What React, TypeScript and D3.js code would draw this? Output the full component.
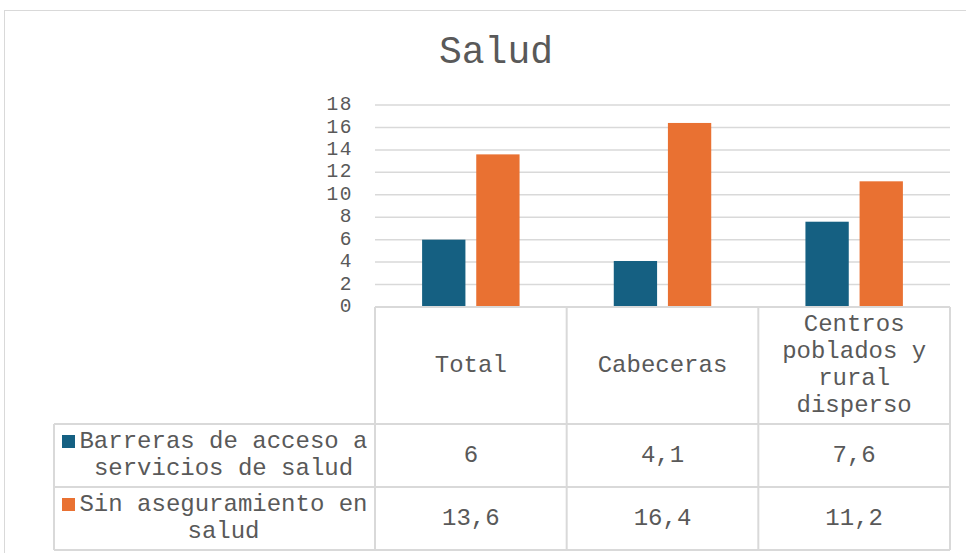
import React from 'react';
import * as d3 from 'd3';

// data
const categories = ['Total', 'Cabeceras', 'Centros poblados y rural disperso'];
const categoryLines = [['Total'], ['Cabeceras'], ['Centros', 'poblados y', 'rural', 'disperso']];
const seriesNames = ['Barreras de acceso a servicios de salud', 'Sin aseguramiento en salud'];
const seriesLines = [['Barreras de acceso a', 'servicios de salud'], ['Sin aseguramiento en', 'salud']];
const barreras = [6, 4.1, 7.6];
const sinAseguramiento = [13.6, 16.4, 11.2];
const yTicks = [0, 2, 4, 6, 8, 10, 12, 14, 16, 18];

const colors = ['#156082', '#e97132'];
const textColor = '#595959';
const gridColor = '#d9d9d9';
const font = '"Liberation Mono", "Courier New", monospace';

const W = 966, H = 553;
const plotLeft = 375, plotRight = 950, plotTop = 105, plotBottom = 307;
const legendLeft = 54;
const headerBottom = 424, row1Bottom = 487, tableBottom = 550;
const lineH = 27;

const fmt = (v: number) => String(v).replace('.', ',');

export default function App() {
  const series = [barreras, sinAseguramiento];

  const x0 = d3.scaleBand<string>().domain(categories).range([plotLeft, plotRight]);
  const x1 = d3
    .scaleBand<string>()
    .domain(seriesNames)
    .range([0, x0.bandwidth()])
    .paddingInner(0.2)
    .paddingOuter(0.87);
  const y = d3.scaleLinear().domain([0, 18]).range([plotBottom, plotTop]);

  const rowTops = [headerBottom, row1Bottom];
  const rowBottoms = [row1Bottom, tableBottom];

  return (
    <svg
      width={W}
      height={H}
      style={{ position: 'absolute', left: 0, top: 0, background: '#fff' }}
      fontFamily={font}
    >
      <rect x={4.5} y={10.5} width={1000} height={600} fill="#fff" stroke={gridColor} />

      <text x={496} y={63} textAnchor="middle" fontSize={38} fill={textColor}>
        Salud
      </text>

      {/* gridlines + y ticks */}
      {yTicks.map(t => (
        <g key={t}>
          {t > 0 && (
            <line x1={plotLeft} x2={plotRight} y1={y(t)} y2={y(t)} stroke={gridColor} strokeWidth={1.5} />
          )}
          <text
            x={353}
            y={y(t)}
            textAnchor="end"
            dominantBaseline="middle"
            fontSize={19.5}
            letterSpacing={1.5}
            fill={textColor}
          >
            {t}
          </text>
        </g>
      ))}

      {/* bars */}
      {categories.map((c, ci) => (
        <g key={c} transform={`translate(${x0(c)},0)`}>
          {seriesNames.map((s, si) => (
            <rect
              key={s}
              x={x1(s)}
              y={y(series[si][ci])}
              width={x1.bandwidth()}
              height={y(0) - y(series[si][ci])}
              fill={colors[si]}
            />
          ))}
        </g>
      ))}

      {/* data table */}
      <g stroke={gridColor} strokeWidth={2} fill="none">
        <line x1={plotLeft} x2={plotRight} y1={plotBottom} y2={plotBottom} />
        <line x1={legendLeft} x2={plotRight} y1={headerBottom} y2={headerBottom} />
        <line x1={legendLeft} x2={plotRight} y1={row1Bottom} y2={row1Bottom} />
        <line x1={legendLeft} x2={plotRight} y1={tableBottom} y2={tableBottom} />
        <line x1={legendLeft} x2={legendLeft} y1={headerBottom} y2={tableBottom} />
        {categories.map(c => (
          <line key={c} x1={x0(c)} x2={x0(c)} y1={plotBottom} y2={tableBottom} />
        ))}
        <line x1={plotRight} x2={plotRight} y1={plotBottom} y2={tableBottom} />
      </g>

      {/* category header */}
      {categories.map((c, ci) => {
        const cx = (x0(c) as number) + x0.bandwidth() / 2;
        const cy = (plotBottom + headerBottom) / 2;
        const lines = categoryLines[ci];
        return (
          <g key={c}>
            {lines.map((l, li) => (
              <text
                key={li}
                x={cx}
                y={cy + (li - (lines.length - 1) / 2) * lineH}
                textAnchor="middle"
                dominantBaseline="middle"
                fontSize={24}
                fill={textColor}
              >
                {l}
              </text>
            ))}
          </g>
        );
      })}

      {/* legend cells + values */}
      {seriesNames.map((s, si) => {
        const cy = (rowTops[si] + rowBottoms[si]) / 2;
        const lines = seriesLines[si];
        const y0 = cy - ((lines.length - 1) / 2) * lineH;
        return (
          <g key={s}>
            <rect x={legendLeft + 8} y={y0 - 7} width={13} height={13} fill={colors[si]} />
            {lines.map((l, li) => (
              <text
                key={li}
                x={legendLeft + 169.5}
                y={y0 + li * lineH}
                textAnchor="middle"
                dominantBaseline="middle"
                fontSize={24}
                fill={textColor}
              >
                {l}
              </text>
            ))}
            {categories.map((c, ci) => (
              <text
                key={c}
                x={(x0(c) as number) + x0.bandwidth() / 2}
                y={cy}
                textAnchor="middle"
                dominantBaseline="middle"
                fontSize={24}
                fill={textColor}
              >
                {fmt(series[si][ci])}
              </text>
            ))}
          </g>
        );
      })}
    </svg>
  );
}
